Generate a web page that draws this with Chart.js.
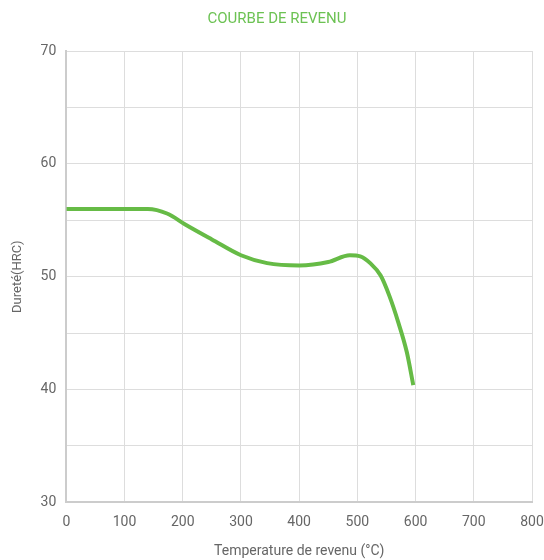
<!DOCTYPE html>
<html lang="fr">
<head>
    <meta charset="UTF-8">
    <title>Courbe de revenu</title>
    <script src="https://cdn.jsdelivr.net/npm/chart.js"></script>
    <style>
        html, body { margin: 0; padding: 0; background: #fff; }
        #wrap { width: 544px; height: 560px; }
    </style>
</head>
<body>
    <div id="wrap"><canvas id="revenuChart" width="544" height="560"></canvas></div>

    <script>
        // Temperature (°C) and hardness (HRC)
        const temperatures = [0, 50, 100, 140, 173, 205, 250, 300, 345, 400, 450, 487, 505, 522, 540, 555, 570, 585, 596];
        const hardness = [56, 56, 56, 56, 55.6, 54.6, 53.3, 51.9, 51.2, 51.0, 51.3, 51.9, 51.8, 51.2, 50.1, 48.3, 46, 43.3, 40.4];

        const xTicks = [0, 100, 200, 300, 400, 500, 600, 700, 800];
        const yLabels = [30, 40, 50, 60, 70];

        const points = temperatures.map((t, i) => ({ x: t, y: hardness[i] }));

        Chart.defaults.font.family = 'Roboto, sans-serif';
        Chart.defaults.color = '#666';

        new Chart(document.getElementById('revenuChart'), {
            type: 'line',
            data: {
                datasets: [{
                    label: 'Dureté',
                    data: points,
                    borderColor: '#66bb46',
                    borderWidth: 4,
                    pointRadius: 0,
                    cubicInterpolationMode: 'monotone',
                    fill: false
                }]
            },
            options: {
                responsive: false,
                animation: false,
                layout: { padding: { left: 10, right: 0, top: 0, bottom: 0 } },
                plugins: {
                    legend: { display: false },
                    tooltip: { enabled: false },
                    title: {
                        display: true,
                        text: 'COURBE DE REVENU',
                        color: '#6cc253',
                        font: { size: 15, weight: 'normal' },
                        padding: { top: 10, bottom: 23 }
                    }
                },
                scales: {
                    x: {
                        type: 'linear',
                        min: 0,
                        max: 800,
                        afterBuildTicks: axis => { axis.ticks = xTicks.map(v => ({ value: v })); },
                        afterFit: axis => { axis.paddingRight = 12; },
                        ticks: { font: { size: 14 }, padding: 12, maxRotation: 0, minRotation: 0 },
                        grid: { color: '#ddd', lineWidth: 1, drawTicks: false },
                        border: { color: '#ccc', width: 2 },
                        title: {
                            display: true,
                            text: 'Temperature de revenu (°C)',
                            font: { size: 14 },
                            padding: { top: 0, bottom: 0 }
                        }
                    },
                    y: {
                        min: 30,
                        max: 70,
                        ticks: {
                            stepSize: 5,
                            font: { size: 14 },
                            padding: 10,
                            callback: v => yLabels.includes(v) ? v : ''
                        },
                        grid: { color: '#ddd', lineWidth: 1, drawTicks: false },
                        border: { color: '#ccc', width: 2 },
                        title: {
                            display: true,
                            text: 'Dureté(HRC)',
                            font: { size: 13 },
                            padding: { top: 0, bottom: 5 }
                        }
                    }
                }
            }
        });
    </script>
</body>
</html>
